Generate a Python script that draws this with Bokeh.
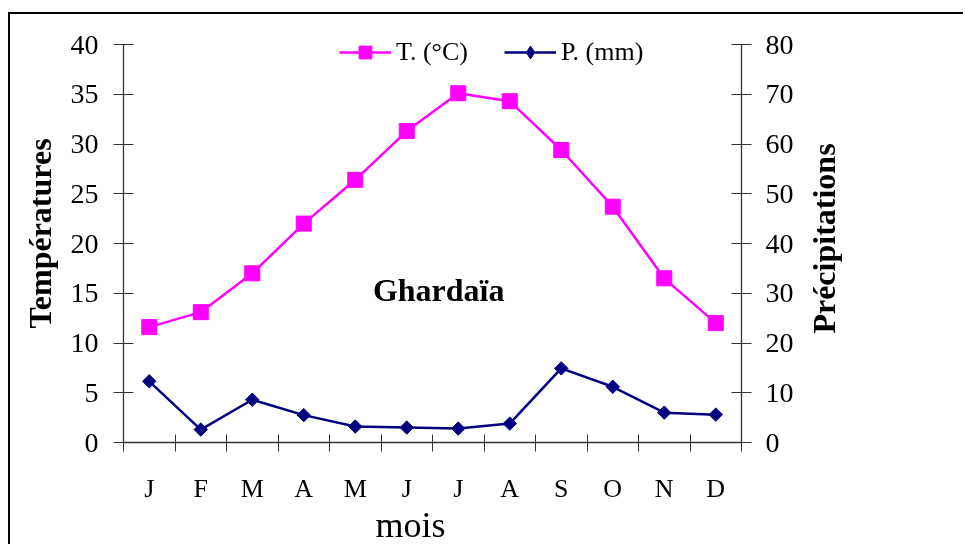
import numpy as np
from bokeh.plotting import figure
from bokeh.models import Range1d, LinearAxis, FixedTicker, Legend, LegendItem, Label
from bokeh.embed import file_html
from bokeh.resources import INLINE

months = ["J", "F", "M", "A", "M", "J", "J", "A", "S", "O", "N", "D"]
temperature = [11.6, 13.1, 17.0, 22.0, 26.4, 31.3, 35.1, 34.3, 29.4, 23.7, 16.5, 12.0]
precipitation = [12.3, 2.6, 8.6, 5.5, 3.2, 3.0, 2.8, 3.8, 14.9, 11.2, 6.0, 5.6]
temp_ticks = [0, 5, 10, 15, 20, 25, 30, 35, 40]
precip_ticks = [0, 10, 20, 30, 40, 50, 60, 70, 80]

FONT = "Liberation Serif"
AX = "#333333"

xs = [i + 0.5 for i in range(len(months))]
boundaries = list(range(len(months) + 1))

# frame is a bit taller than the axes (axes are bounded) so the legend is not clipped
T_TOP = temp_ticks[-1] * 418 / 398
P_TOP = precip_ticks[-1] * 418 / 398

p = figure(width=955, height=545, x_range=Range1d(0, 12), y_range=Range1d(0, T_TOP),
           output_backend="svg", toolbar_location=None,
           min_border_left=113, min_border_right=224, min_border_top=10, min_border_bottom=117)
p.styles = {"border-top": "2px solid black", "border-left": "2px solid black",
            "position": "fixed", "top": "12px", "left": "8px"}
p.outline_line_color = None
p.xgrid.visible = False
p.ygrid.visible = False
p.background_fill_color = "white"
p.border_fill_color = "white"

# left axis
ya = p.yaxis[0]
ya.ticker = FixedTicker(ticks=temp_ticks)
ya.bounds = (temp_ticks[0], temp_ticks[-1])
ya.major_tick_in = 10
ya.major_tick_out = 10
ya.minor_tick_in = 0
ya.minor_tick_out = 0
ya.axis_line_color = AX
ya.major_tick_line_color = AX
ya.axis_line_width = 1.3
ya.major_label_text_font = FONT
ya.major_label_text_font_size = "28px"
ya.major_label_text_color = "black"
ya.major_label_standoff = 15
ya.axis_label = "Températures"
ya.axis_label_text_font = FONT
ya.axis_label_text_font_style = "bold"
ya.axis_label_text_font_size = "32px"
ya.axis_label_text_color = "black"
ya.axis_label_standoff = 10

# x axis
xa = p.xaxis[0]
xa.ticker = FixedTicker(ticks=xs, minor_ticks=boundaries)
xa.major_label_overrides = {x: m for x, m in zip(xs, months)}
xa.major_tick_in = 0
xa.major_tick_out = 0
xa.minor_tick_in = 8
xa.minor_tick_out = 9
xa.axis_line_color = AX
xa.minor_tick_line_color = AX
xa.axis_line_width = 1.3
xa.major_label_text_font = FONT
xa.major_label_text_font_size = "26px"
xa.major_label_text_color = "black"
xa.major_label_standoff = 22

# right axis
p.extra_y_ranges = {"precip": Range1d(0, P_TOP)}
ra = LinearAxis(y_range_name="precip", ticker=FixedTicker(ticks=precip_ticks))
ra.bounds = (precip_ticks[0], precip_ticks[-1])
ra.major_tick_in = 10
ra.major_tick_out = 10
ra.minor_tick_in = 0
ra.minor_tick_out = 0
ra.axis_line_color = AX
ra.major_tick_line_color = AX
ra.axis_line_width = 1.3
ra.major_label_text_font = FONT
ra.major_label_text_font_size = "28px"
ra.major_label_text_color = "black"
ra.major_label_standoff = 14
p.add_layout(ra, "right")

MAG = "#FF00FF"
NAVY = "#000080"
t_line = p.line(xs, temperature, line_color=MAG, line_width=2.5)
t_pts = p.scatter(xs, temperature, marker="square", size=15, color=MAG)
p_line = p.line(xs, precipitation, y_range_name="precip", line_color=NAVY, line_width=2.5)
# diamond glyph used for the legend swatch (hidden under the plotted markers)
p_leg = p.scatter(xs, precipitation, marker="diamond", size=8, color=NAVY, y_range_name="precip")
p_pts = p.scatter(xs, precipitation, marker="square", angle=np.pi / 4, size=9.5,
                  color=NAVY, y_range_name="precip")

legend = Legend(items=[LegendItem(label="T. (°C)", renderers=[t_line, t_pts]),
                       LegendItem(label="P. (mm)", renderers=[p_line, p_leg])],
                orientation="horizontal", location=(216, 374))
legend.border_line_color = None
legend.background_fill_alpha = 0
legend.padding = 0
legend.margin = 0
legend.spacing = 36
legend.glyph_width = 52
legend.glyph_height = 32
legend.label_standoff = 5
legend.label_text_font = FONT
legend.label_text_font_size = "26px"
legend.label_text_color = "black"
p.add_layout(legend)

p.add_layout(Label(x=6.12, y=15.3, text="Ghardaïa", text_align="center", text_baseline="alphabetic",
                   text_font=FONT, text_font_style="bold", text_font_size="32px", text_color="black"))


def title_overlay(text, left, top, w, h, size, bold, angle):
    f = figure(width=w, height=h, x_range=Range1d(0, 1), y_range=Range1d(0, 1),
               output_backend="svg", toolbar_location=None,
               x_axis_type=None, y_axis_type=None, min_border=0)
    f.styles = {"position": "fixed", "left": f"{left}px", "top": f"{top}px"}
    f.outline_line_color = None
    f.xgrid.visible = False
    f.ygrid.visible = False
    f.background_fill_alpha = 0
    f.border_fill_alpha = 0
    f.add_layout(Label(x=0.5, y=0.5, text=text, angle=angle, text_align="center",
                       text_baseline="middle", text_font=FONT,
                       text_font_style="bold" if bold else "normal",
                       text_font_size=size, text_color="black"))
    return f


right_title = title_overlay("Précipitations", 800, 118, 46, 240, "32px", True, np.pi / 2)
x_title = title_overlay("mois", 330, 494, 160, 60, "36px", False, 0)

open("out.html", "w").write(file_html([p, right_title, x_title], INLINE))
